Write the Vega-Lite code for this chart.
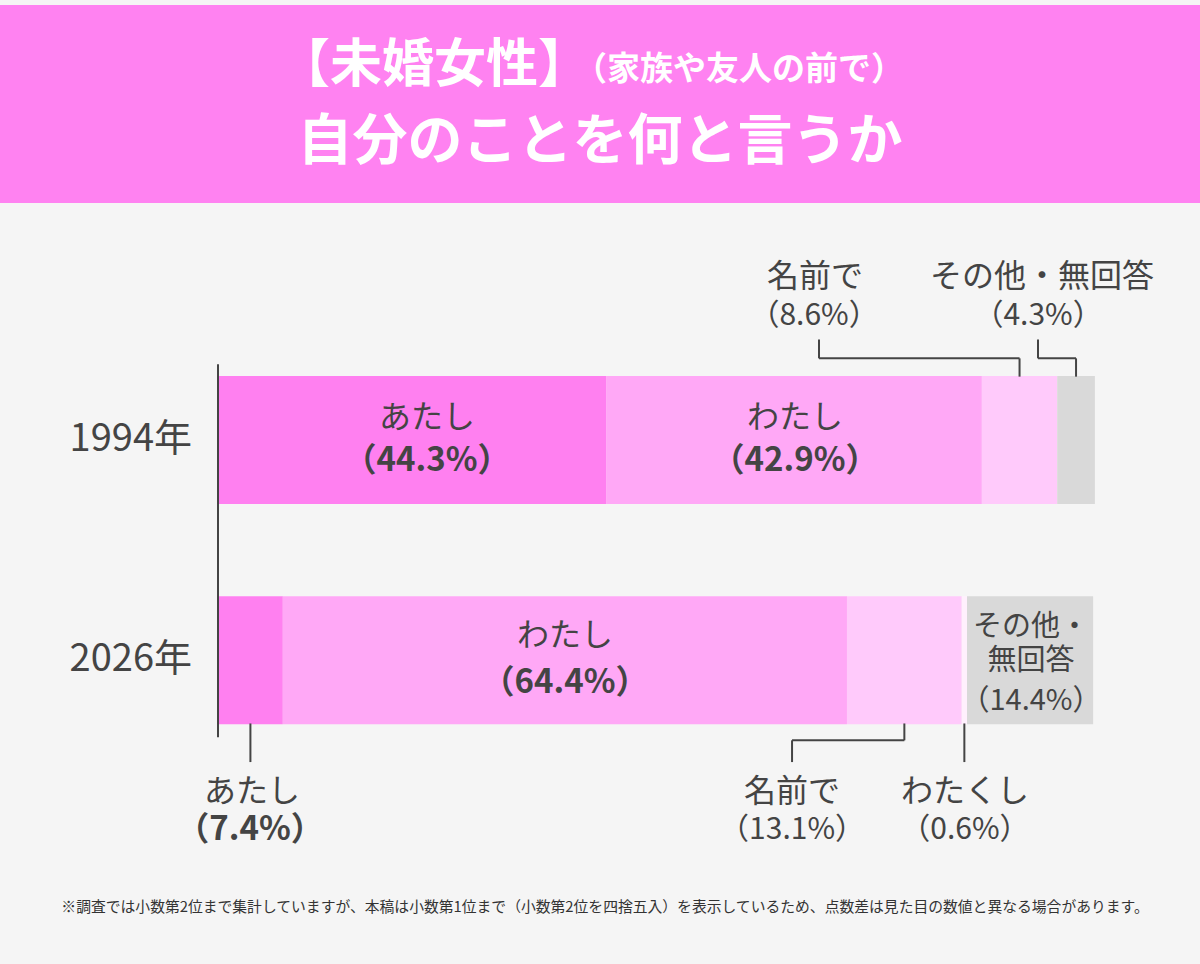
{
  "$schema": "https://vega.github.io/schema/vega-lite/v6.json",
  "width": 1200,
  "height": 964,
  "autosize": {"type": "fit", "contains": "padding"},
  "padding": 0,
  "background": "#f5f5f5",
  "config": {
    "view": {"stroke": null},
    "text": {"font": "Noto Sans CJK JP", "color": "#444444"}
  },
  "datasets": {
    "bars": [
      {"year": 1994, "cat": "あたし", "pct": 44.3, "ord": 1},
      {"year": 1994, "cat": "わたし", "pct": 42.9, "ord": 2},
      {"year": 1994, "cat": "名前で", "pct": 8.6, "ord": 3},
      {"year": 1994, "cat": "その他・無回答", "pct": 4.3, "ord": 5},
      {"year": 2026, "cat": "あたし", "pct": 7.4, "ord": 1},
      {"year": 2026, "cat": "わたし", "pct": 64.4, "ord": 2},
      {"year": 2026, "cat": "名前で", "pct": 13.1, "ord": 3},
      {"year": 2026, "cat": "わたくし", "pct": 0.6, "ord": 4},
      {"year": 2026, "cat": "その他・無回答", "pct": 14.4, "ord": 5}
    ],
    "labels": [
      {"t": "あたし", "x": 23.86, "y": 1990.76},
      {"t": "わたし", "x": 65.87, "y": 1990.76},
      {"t": "わたし", "x": 39.61, "y": 2022.55},
      {"t": "名前で", "x": 68.15, "y": 1970.34},
      {"t": "その他・無回答", "x": 94.06, "y": 1970.34},
      {"t": "あたし", "x": 3.88, "y": 2045.13},
      {"t": "名前で", "x": 65.53, "y": 2045.13},
      {"t": "わたくし", "x": 85.27, "y": 2045.13}
    ],
    "pctBold": [
      {"t": "（44.3%）", "x": 23.86, "y": 1997.09},
      {"t": "（42.9%）", "x": 65.87, "y": 1997.09},
      {"t": "（64.4%）", "x": 39.61, "y": 2029.31},
      {"t": "（7.4%）", "x": 3.65, "y": 2050.74}
    ],
    "pctReg": [
      {"t": "（8.6%）", "x": 68.04, "y": 1975.95},
      {"t": "（4.3%）", "x": 93.61, "y": 1975.95},
      {"t": "（13.1%）", "x": 65.53, "y": 2050.74},
      {"t": "（0.6%）", "x": 85.27, "y": 2050.74}
    ],
    "greyText": [
      {"t": "その他・", "x": 92.81, "y": 2021.11},
      {"t": "無回答", "x": 92.81, "y": 2026.14},
      {"t": "（14.4%）", "x": 92.81, "y": 2031.90}
    ],
    "rules": [
      {"x": 0, "x2": 0, "y": 1983.0, "y2": 2037.22},
      {"x": 68.61, "x2": 68.61, "y": 1979.4, "y2": 1982.14},
      {"x": 68.61, "x2": 91.5, "y": 1982.14, "y2": 1982.14},
      {"x": 91.5, "x2": 91.5, "y": 1982.14, "y2": 1984.8},
      {"x": 93.61, "x2": 93.61, "y": 1979.4, "y2": 1982.14},
      {"x": 93.61, "x2": 97.95, "y": 1982.14, "y2": 1982.14},
      {"x": 97.95, "x2": 97.95, "y": 1982.14, "y2": 1984.8},
      {"x": 3.7, "x2": 3.7, "y": 2035.2, "y2": 2040.81},
      {"x": 78.35, "x2": 78.35, "y": 2035.2, "y2": 2037.65},
      {"x": 78.35, "x2": 65.53, "y": 2037.65, "y2": 2037.65},
      {"x": 65.53, "x2": 65.53, "y": 2037.65, "y2": 2040.81},
      {"x": 85.2, "x2": 85.2, "y": 2035.2, "y2": 2040.81}
    ],
    "years": [
      {"t": "1994年", "year": 1994},
      {"t": "2026年", "year": 2026}
    ]
  },
  "encoding": {
    "x": {"type": "quantitative", "scale": {"domain": [-24.886, 112.1], "nice": false, "zero": false}, "axis": null},
    "y": {"type": "quantitative", "scale": {"domain": [1930.79, 2069.43], "nice": false, "zero": false, "reverse": true}, "axis": null}
  },
  "layer": [
    {
      "data": {"values": [{"k": "header"}]},
      "mark": {"type": "rect", "color": "#ff82f1"},
      "encoding": {
        "x": {"datum": -24.886},
        "x2": {"datum": 112.1},
        "y": {"datum": 1930.79},
        "y2": {"datum": 1959.55}
      }
    },
    {
      "data": {"values": [{"t": "【未婚女性】", "x": 42.47, "y": 1939.71}]},
      "mark": {"type": "text", "align": "right", "baseline": "middle", "fontSize": 52, "fontWeight": "bold", "color": "#ffffff"},
      "encoding": {"x": {"field": "x", "type": "quantitative"}, "y": {"field": "y", "type": "quantitative"}, "text": {"field": "t"}}
    },
    {
      "data": {"values": [{"t": "（家族や友人の前で）", "x": 40.64, "y": 1940.28}]},
      "mark": {"type": "text", "align": "left", "baseline": "middle", "fontSize": 33, "fontWeight": "bold", "color": "#ffffff"},
      "encoding": {"x": {"field": "x", "type": "quantitative"}, "y": {"field": "y", "type": "quantitative"}, "text": {"field": "t"}}
    },
    {
      "data": {"values": [{"t": "自分のことを何と言うか", "x": 43.61, "y": 1950.64}]},
      "mark": {"type": "text", "align": "center", "baseline": "middle", "fontSize": 55, "fontWeight": "bold", "color": "#ffffff"},
      "encoding": {"x": {"field": "x", "type": "quantitative"}, "y": {"field": "y", "type": "quantitative"}, "text": {"field": "t"}}
    },
    {
      "data": {"name": "bars"},
      "transform": [
        {"stack": "pct", "groupby": ["year"], "sort": [{"field": "ord", "order": "ascending"}], "as": ["x0", "x1"]}
      ],
      "mark": {"type": "bar", "orient": "horizontal", "size": 128},
      "encoding": {
        "x": {"field": "x0", "type": "quantitative"},
        "x2": {"field": "x1"},
        "y": {"field": "year", "type": "quantitative"},
        "color": {
          "field": "cat", "type": "nominal", "legend": null,
          "scale": {
            "domain": ["あたし", "わたし", "名前で", "わたくし", "その他・無回答"],
            "range": ["#ff80f0", "#ffa8f6", "#ffcafb", "#fff0fd", "#d9d9d9"]
          }
        }
      }
    },
    {
      "data": {"name": "rules"},
      "mark": {"type": "rule", "color": "#444444", "strokeWidth": 2},
      "encoding": {
        "x": {"field": "x", "type": "quantitative"},
        "x2": {"field": "x2"},
        "y": {"field": "y", "type": "quantitative"},
        "y2": {"field": "y2"}
      }
    },
    {
      "data": {"name": "years"},
      "mark": {"type": "text", "align": "right", "baseline": "middle", "fontSize": 38},
      "encoding": {
        "x": {"datum": -2.97},
        "y": {"field": "year", "type": "quantitative"},
        "text": {"field": "t"}
      }
    },
    {
      "data": {"name": "labels"},
      "mark": {"type": "text", "align": "center", "baseline": "middle", "fontSize": 32},
      "encoding": {"x": {"field": "x", "type": "quantitative"}, "y": {"field": "y", "type": "quantitative"}, "text": {"field": "t"}}
    },
    {
      "data": {"name": "pctBold"},
      "mark": {"type": "text", "align": "center", "baseline": "middle", "fontSize": 33, "fontWeight": "bold"},
      "encoding": {"x": {"field": "x", "type": "quantitative"}, "y": {"field": "y", "type": "quantitative"}, "text": {"field": "t"}}
    },
    {
      "data": {"name": "pctReg"},
      "mark": {"type": "text", "align": "center", "baseline": "middle", "fontSize": 30},
      "encoding": {"x": {"field": "x", "type": "quantitative"}, "y": {"field": "y", "type": "quantitative"}, "text": {"field": "t"}}
    },
    {
      "data": {"name": "greyText"},
      "mark": {"type": "text", "align": "center", "baseline": "middle", "fontSize": 29},
      "encoding": {"x": {"field": "x", "type": "quantitative"}, "y": {"field": "y", "type": "quantitative"}, "text": {"field": "t"}}
    },
    {
      "data": {"values": [{"t": "※調査では小数第2位まで集計していますが、本稿は小数第1位まで（小数第2位を四捨五入）を表示しているため、点数差は見た目の数値と異なる場合があります。", "x": 44.18, "y": 2061.96}]},
      "mark": {"type": "text", "align": "center", "baseline": "middle", "fontSize": 14.8, "color": "#333333"},
      "encoding": {"x": {"field": "x", "type": "quantitative"}, "y": {"field": "y", "type": "quantitative"}, "text": {"field": "t"}}
    }
  ]
}
